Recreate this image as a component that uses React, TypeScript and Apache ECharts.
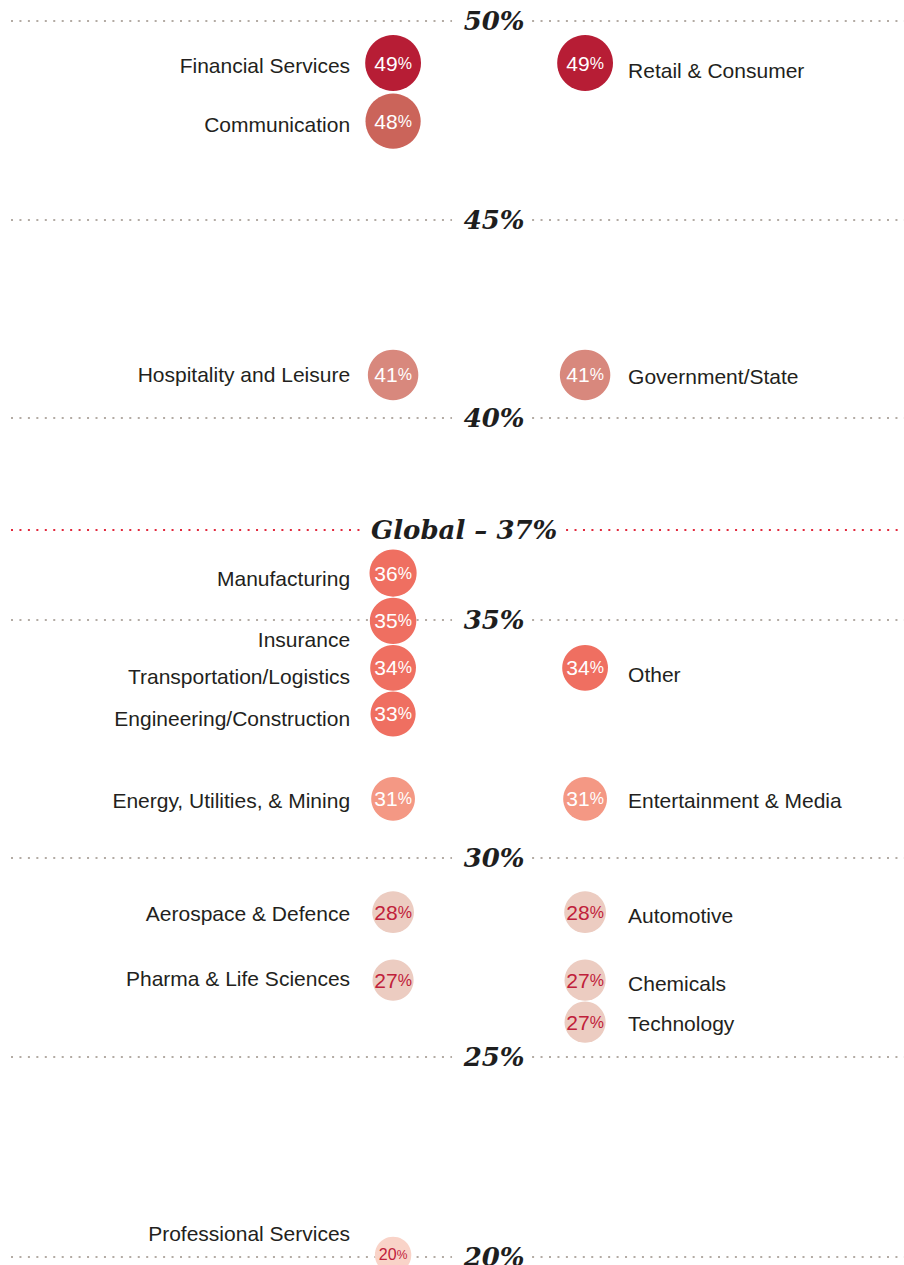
import React, { useEffect, useRef } from "react";
import * as echarts from "echarts";

// Industries, their share, column (0 = left, 1 = right), and vertical layout positions
const industries = [
  "Financial Services", "Communication", "Hospitality and Leisure", "Manufacturing", "Insurance",
  "Transportation/Logistics", "Engineering/Construction", "Energy, Utilities, & Mining",
  "Aerospace & Defence", "Pharma & Life Sciences", "Professional Services",
  "Retail & Consumer", "Government/State", "Other", "Entertainment & Media",
  "Automotive", "Chemicals", "Technology",
];
const values = [49, 48, 41, 36, 35, 34, 33, 31, 28, 27, 20, 49, 41, 34, 31, 28, 27, 27];
const sides = [0, 0, 0, 0, 0, 0, 0, 0, 0, 0, 0, 1, 1, 1, 1, 1, 1, 1];
const bubblePos = [48.98, 47.57, 41.41, 36.6, 35.44, 34.3, 33.18, 31.12, 28.37, 26.72, 20.05, 48.98, 41.41, 34.3, 31.12, 28.37, 26.72, 25.7];
const labelPos = [48.91, 47.5, 41.41, 36.46, 35.0, 34.08, 33.06, 31.07, 28.33, 26.75, 20.58, 48.81, 41.38, 34.13, 31.07, 28.3, 26.65, 25.66];

// Reference levels and their drawn positions
const levels = [50, 45, 40, 35, 30, 25, 20];
const levelPos = [50, 45.17, 40.36, 35.46, 29.68, 24.85, 20.0];
const globalValue = 37;
const globalPos = 37.65;

const X_MIN = -1.99;
const X_MAX = 2.661;

function bubbleColor(v: number): string {
  if (v >= 49) return "#b71d35";
  if (v >= 45) return "#cb645a";
  if (v >= 38) return "#d8887d";
  if (v >= 32) return "#ef6f61";
  if (v >= 30) return "#f49884";
  if (v >= 25) return "#ecccc1";
  return "#f9d3c8";
}
function textColor(v: number): string {
  return v >= 30 ? "#ffffff" : "#c0203a";
}
function bubbleSize(v: number): number {
  return 23 + 0.67 * v;
}

export default function App() {
  const ref = useRef<HTMLDivElement>(null);
  useEffect(() => {
    if (!ref.current) return;
    const chart = echarts.init(ref.current, undefined, { renderer: "svg" });
    const sans = "Liberation Sans, Arial, sans-serif";

    const bubbleData = values.map((v, i) => ({
      value: [sides[i], bubblePos[i], v],
      symbolSize: bubbleSize(v),
      itemStyle: { color: bubbleColor(v), opacity: 1 },
      label: {
        rich: {
          n: { fontSize: v < 25 ? 16 : 21, color: textColor(v), fontFamily: sans },
          p: { fontSize: v < 25 ? 12 : 16, color: textColor(v), fontFamily: sans },
        },
      },
    }));

    const nameData = industries.map((name, i) => ({
      value: [sides[i], labelPos[i]],
      name,
      label: { position: sides[i] === 0 ? "left" : "right" },
    }));

    const levelLabelData = levels.map((l, i) => ({
      value: [0.526, levelPos[i]],
      name: l + "%",
    }));

    const dotted = { type: [2, 6.45], width: 2, color: "#b3aba4", cap: "butt", opacity: 1 };
    const red = { ...dotted, color: "#e2283c" };

    // each reference line is two dotted segments, leaving a gap for its label
    const segs: any[] = [];
    levelPos.forEach((p) => {
      segs.push([{ coord: [X_MIN, p], lineStyle: dotted }, { coord: [0.307, p] }]);
      segs.push([{ coord: [0.724, p], lineStyle: dotted }, { coord: [X_MAX, p] }]);
    });
    segs.push([{ coord: [X_MIN, globalPos], lineStyle: red }, { coord: [-0.161, globalPos] }]);
    segs.push([{ coord: [0.901, globalPos], lineStyle: red }, { coord: [X_MAX, globalPos] }]);

    const option: any = {
      animation: false,
      backgroundColor: "#ffffff",
      grid: { left: 11, right: 0, top: 0, bottom: 0 },
      xAxis: { type: "value", min: X_MIN, max: X_MAX, show: false },
      yAxis: { type: "value", min: 19.806, max: 50.51, show: false },
      series: [
        {
          type: "scatter",
          name: "levels",
          data: [],
          silent: true,
          z: 1,
          markLine: {
            silent: true,
            symbol: ["none", "none"],
            label: { show: false },
            data: segs,
          },
        },
        {
          type: "scatter",
          name: "levelLabels",
          z: 3,
          symbolSize: 0,
          silent: true,
          itemStyle: { opacity: 1 },
          data: [
            ...levelLabelData,
            { value: [0.37, globalPos], name: "Global – " + globalValue + "%" },
          ],
          label: {
            show: true,
            position: "inside",
            formatter: (p: any) => p.name,
            fontFamily: "DejaVu Serif, serif",
            fontStyle: "italic",
            fontWeight: "bold",
            fontSize: 26,
            lineHeight: 24,
            color: "#1e1e1e",
          },
        },
        {
          type: "scatter",
          name: "names",
          z: 4,
          symbolSize: 0,
          silent: true,
          itemStyle: { opacity: 1 },
          data: nameData,
          label: {
            show: true,
            distance: 43,
            formatter: (p: any) => p.name,
            fontFamily: sans,
            fontSize: 21,
            color: "#231f20",
          },
        },
        {
          type: "scatter",
          name: "bubbles",
          z: 5,
          silent: true,
          itemStyle: { opacity: 1 },
          data: bubbleData,
          label: {
            show: true,
            position: "inside",
            formatter: (p: any) => "{n|" + p.value[2] + "}{p|%}",
          },
        },
      ],
    };
    chart.setOption(option);
    return () => chart.dispose();
  }, []);

  return (
    <div
      ref={ref}
      style={{ position: "absolute", left: 0, top: 0, width: 904, height: 1265, background: "#fff" }}
    />
  );
}
